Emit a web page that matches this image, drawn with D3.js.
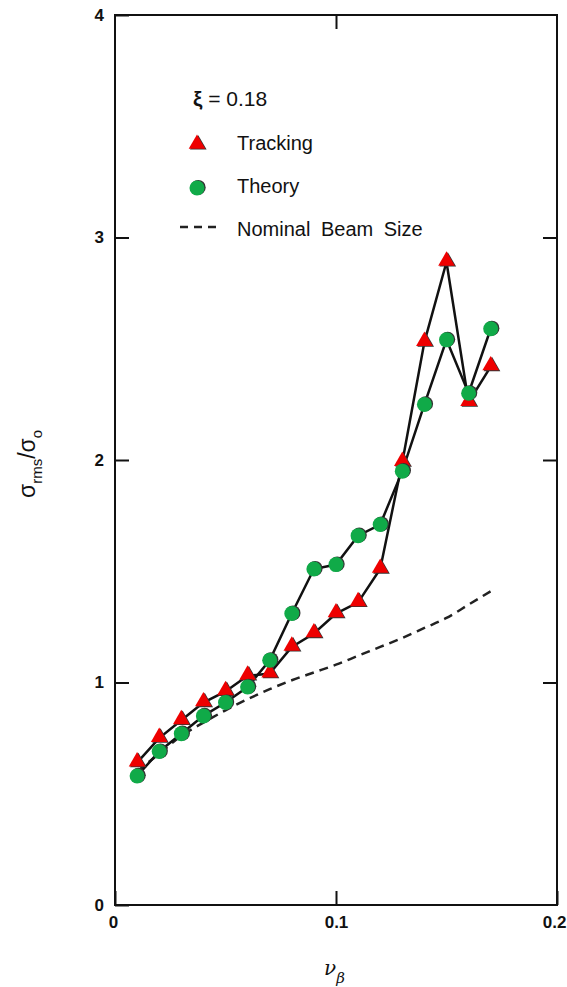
<!DOCTYPE html>
<meta charset="utf-8">
<head>
  <script src="https://d3js.org/d3.v7.min.js"></script>
  <style>
    body { margin: 0; background: #fff; }
    text { font-family: "Liberation Sans", Arial, sans-serif; fill: #111; }
  </style>
</head>
<body>
<div id="display"></div>
<script>
  // values (xi = 0.18)
  var nu = [0.01, 0.02, 0.03, 0.04, 0.05, 0.06, 0.07, 0.08, 0.09, 0.10, 0.11, 0.12, 0.13, 0.14, 0.15, 0.16, 0.17];
  var tracking = [0.64, 0.75, 0.83, 0.91, 0.96, 1.03, 1.04, 1.16, 1.22, 1.31, 1.36, 1.51, 1.99, 2.53, 2.89, 2.26, 2.42];
  var theory = [0.58, 0.69, 0.77, 0.85, 0.91, 0.98, 1.10, 1.31, 1.51, 1.53, 1.66, 1.71, 1.95, 2.25, 2.54, 2.30, 2.59];
  var nominal = [0.60, 0.68, 0.76, 0.82, 0.875, 0.925, 0.97, 1.01, 1.045, 1.08, 1.12, 1.16, 1.20, 1.245, 1.29, 1.35, 1.41];
  var xTicks = [0, 0.1, 0.2];
  var yTicks = [0, 1, 2, 3, 4];
  var legendLabels = ["Tracking", "Theory", "Nominal Beam Size"];

  var margin = {top: 15, right: 10, bottom: 82, left: 115},
      width = 567 - margin.left - margin.right,
      height = 987 - margin.top - margin.bottom;

  var svg = d3.select("#display")
    .append("svg")
      .attr("width", 567)
      .attr("height", 987)
    .append("g")
      .attr("transform", "translate(" + margin.left + "," + margin.top + ")");

  var x = d3.scaleLinear().domain([0, 0.2]).range([0, width]);
  var y = d3.scaleLinear().domain([0, 4]).range([height, 0]);

  // axes, ticks pointing inward on all four sides
  var fmtX = function(d) { return d === 0 ? "0" : d3.format(".1f")(d); };
  var gx = svg.append("g").attr("transform", "translate(0," + height + ")")
    .call(d3.axisBottom(x).tickValues(xTicks).tickSize(-14).tickPadding(9).tickFormat(fmtX));
  var gy = svg.append("g")
    .call(d3.axisLeft(y).tickValues(yTicks).tickSize(-14).tickPadding(11).tickFormat(d3.format("d")));
  svg.append("g")
    .call(d3.axisTop(x).tickValues([0.1]).tickSize(-14).tickFormat(""));
  svg.append("g").attr("transform", "translate(" + width + ",0)")
    .call(d3.axisRight(y).tickValues([1, 2, 3]).tickSize(-14).tickFormat(""));

  svg.selectAll(".domain").remove();
  svg.selectAll(".tick line").attr("stroke", "#111").attr("stroke-width", 2);
  svg.selectAll(".tick text")
    .style("font-size", "17px").style("font-weight", "bold").attr("fill", "#111");
  gx.selectAll(".tick text").attr("dy", "0.85em");
  // last x label sits against the right edge, as in the figure
  gx.selectAll(".tick text").filter(function(d) { return d === 0.2; })
    .attr("text-anchor", "end").attr("x", 9);
  gx.selectAll(".tick text").filter(function(d) { return d === 0; }).attr("x", -2);

  svg.append("rect")
    .attr("width", width).attr("height", height)
    .attr("fill", "none").attr("stroke", "#111").attr("stroke-width", 2);

  // nominal beam size, dashed
  var line = d3.line()
    .x(function(d, i) { return x(nu[i]); })
    .y(function(d) { return y(d); });

  svg.append("path")
    .datum(nominal)
    .attr("d", line.curve(d3.curveMonotoneX))
    .attr("fill", "none").attr("stroke", "#222")
    .attr("stroke-width", 2.5).attr("stroke-dasharray", "9,6");

  line.curve(d3.curveLinear);
  [tracking, theory].forEach(function(s) {
    svg.append("path")
      .datum(s)
      .attr("d", line)
      .attr("fill", "none").attr("stroke", "#111").attr("stroke-width", 2.5);
  });

  var tri = d3.symbol().type(d3.symbolTriangle).size(120);

  function drawTri(g, cx, cy) {
    g.append("path").attr("d", tri)
      .attr("transform", "translate(" + (cx + 1.3) + "," + (cy + 0.8) + ")")
      .attr("fill", "#333");
    g.append("path").attr("d", tri)
      .attr("transform", "translate(" + cx + "," + cy + ")")
      .attr("fill", "#ee0000");
  }
  function drawDot(g, cx, cy) {
    g.append("circle").attr("cx", cx + 1.2).attr("cy", cy - 0.6).attr("r", 7.5).attr("fill", "#333");
    g.append("circle").attr("cx", cx).attr("cy", cy).attr("r", 7.5).attr("fill", "#10aa48");
  }

  var marks = svg.append("g");
  tracking.forEach(function(d, i) { drawTri(marks, x(nu[i]), y(d) - 1); });
  theory.forEach(function(d, i) { drawDot(marks, x(nu[i]), y(d)); });

  // legend
  var lg = svg.append("g").attr("transform", "translate(" + (-margin.left) + "," + (-margin.top) + ")");
  var xi = lg.append("text").attr("x", 193).attr("y", 106).style("font-size", "21px");
  xi.append("tspan").style("font-weight", "bold").text("ξ");
  xi.append("tspan").text(" = 0.18");

  drawTri(lg, 197, 144);
  drawDot(lg, 197, 188);
  lg.append("line").attr("x1", 180).attr("x2", 218).attr("y1", 227).attr("y2", 227)
    .attr("stroke", "#222").attr("stroke-width", 2.4).attr("stroke-dasharray", "8,6");

  lg.selectAll("text.leg")
    .data(legendLabels)
    .enter()
    .append("text")
      .attr("class", "leg")
      .attr("x", 237)
      .attr("y", function(d, i) { return 150 + i * 43; })
      .style("font-size", "20px")
      .style("word-spacing", "5px")
      .text(function(d) { return d; });

  // axis titles
  var xt = lg.append("text").attr("x", 324).attr("y", 975).style("font-size", "20px");
  xt.append("tspan").style("font-style", "italic").style("font-family", "DejaVu Serif").text("ν");
  xt.append("tspan").attr("dy", 8).style("font-size", "15px").style("font-style", "italic")
    .style("font-family", "DejaVu Serif").text("β");

  var yt = lg.append("text")
    .attr("transform", "translate(35,498) rotate(-90)")
    .style("font-size", "23px");
  yt.append("tspan").text("σ");
  yt.append("tspan").attr("dy", 7).style("font-size", "15px").text("rms");
  yt.append("tspan").attr("dy", -7).text("/");
  yt.append("tspan").text("σ");
  yt.append("tspan").attr("dy", 7).style("font-size", "15px").text("o");
</script>
</body>
